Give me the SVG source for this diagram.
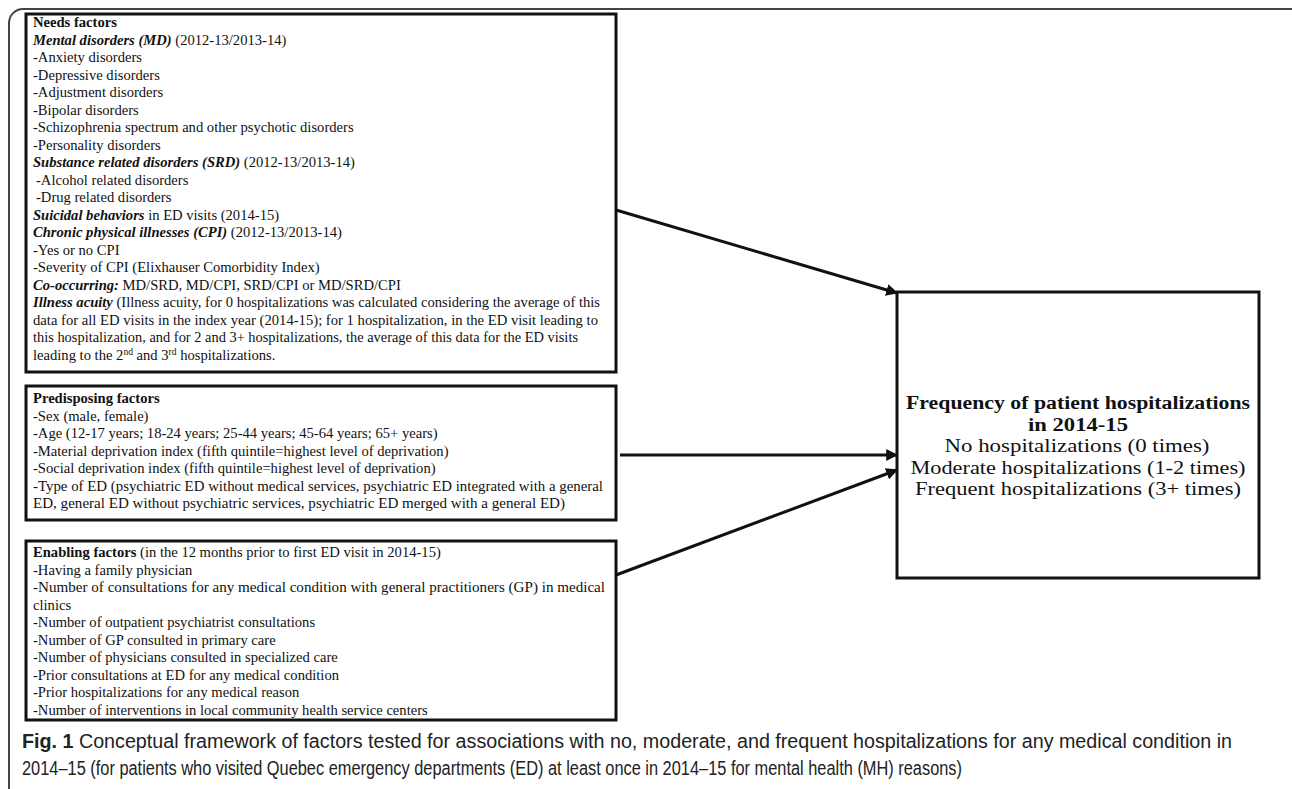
<svg xmlns="http://www.w3.org/2000/svg" width="1292" height="789" viewBox="0 0 1292 789">
<style>
.box{fill:#fff;stroke:#111;stroke-width:3}
.t{font-family:"Liberation Serif","Times New Roman",serif;font-size:14.6px;fill:#111}
.b{font-weight:bold}
.bi{font-weight:bold;font-style:italic}
.big{font-family:"Liberation Serif","Times New Roman",serif;font-size:18.5px;fill:#111;text-anchor:middle}
.cap{font-family:"Liberation Sans Narrow","Liberation Sans",Arial,sans-serif;font-size:20px;fill:#222}
.con{stroke:#111;stroke-width:3;fill:none;marker-end:url(#ah)}
</style>
<defs>
<marker id="ah" viewBox="0 0 10 10" refX="9" refY="5" markerWidth="4" markerHeight="4" orient="auto" markerUnits="strokeWidth">
<path d="M0,0 L10,5 L0,10 z" fill="#111"/>
</marker>
</defs>
<rect x="9" y="9" width="1300" height="800" rx="14" fill="#fff" stroke="#444" stroke-width="2"/>

<g id="needs">
<rect class="box" x="26" y="14" width="590" height="358"/>
<text class="t">
<tspan x="33" y="27" class="b">Needs factors</tspan>
<tspan x="33" y="44.5"><tspan class="bi">Mental disorders (MD)</tspan> (2012-13/2013-14)</tspan>
<tspan x="33" y="62">-Anxiety disorders</tspan>
<tspan x="33" y="79.5">-Depressive disorders</tspan>
<tspan x="33" y="97">-Adjustment disorders</tspan>
<tspan x="33" y="114.5">-Bipolar disorders</tspan>
<tspan x="33" y="132">-Schizophrenia spectrum and other psychotic disorders</tspan>
<tspan x="33" y="149.5">-Personality disorders</tspan>
<tspan x="33" y="167"><tspan class="bi">Substance related disorders (SRD)</tspan> (2012-13/2013-14)</tspan>
<tspan x="36" y="184.5">-Alcohol related disorders</tspan>
<tspan x="36" y="202">-Drug related disorders</tspan>
<tspan x="33" y="219.5"><tspan class="bi">Suicidal behaviors</tspan> in ED visits (2014-15)</tspan>
<tspan x="33" y="237"><tspan class="bi">Chronic physical illnesses (CPI)</tspan> (2012-13/2013-14)</tspan>
<tspan x="33" y="254.5">-Yes or no CPI</tspan>
<tspan x="33" y="272">-Severity of CPI (Elixhauser Comorbidity Index)</tspan>
<tspan x="33" y="289.5"><tspan class="bi">Co-occurring:</tspan> MD/SRD, MD/CPI, SRD/CPI or MD/SRD/CPI</tspan>
</text>
<text class="t" x="33" y="307" textLength="567" lengthAdjust="spacingAndGlyphs"><tspan class="bi">Illness acuity</tspan> (Illness acuity, for 0 hospitalizations was calculated considering the average of this</text>
<text class="t" x="33" y="324.5" textLength="565" lengthAdjust="spacingAndGlyphs">data for all ED visits in the index year (2014-15); for 1 hospitalization, in the ED visit leading to</text>
<text class="t" x="33" y="342" textLength="545" lengthAdjust="spacingAndGlyphs">this hospitalization, and for 2 and 3+ hospitalizations, the average of this data for the ED visits</text>
<text class="t" x="33" y="359.5">leading to the 2<tspan font-size="9.5" dy="-5">nd</tspan><tspan dy="5"> and 3</tspan><tspan font-size="9.5" dy="-5">rd</tspan><tspan dy="5"> hospitalizations.</tspan></text>
</g>

<g id="predisposing">
<rect class="box" x="26" y="386" width="590" height="134"/>
<text class="t">
<tspan x="33" y="403" class="b">Predisposing factors</tspan>
<tspan x="33" y="420.5">-Sex (male, female)</tspan>
<tspan x="33" y="438">-Age (12-17 years; 18-24 years; 25-44 years; 45-64 years; 65+ years)</tspan>
<tspan x="33" y="455.5">-Material deprivation index (fifth quintile=highest level of deprivation)</tspan>
<tspan x="33" y="473">-Social deprivation index (fifth quintile=highest level of deprivation)</tspan>
</text>
<text class="t" x="33" y="490.5" textLength="570" lengthAdjust="spacingAndGlyphs">-Type of ED (psychiatric ED without medical services, psychiatric ED integrated with a general</text>
<text class="t" x="33" y="508" textLength="532" lengthAdjust="spacingAndGlyphs">ED, general ED without psychiatric services, psychiatric ED merged with a general ED)</text>
</g>

<g id="enabling">
<rect class="box" x="26" y="541" width="590" height="179"/>
<text class="t">
<tspan x="33" y="557"><tspan class="b">Enabling factors</tspan> (in the 12 months prior to first ED visit in 2014-15)</tspan>
<tspan x="33" y="574.5">-Having a family physician</tspan>
</text>
<text class="t" x="33" y="592" textLength="572" lengthAdjust="spacingAndGlyphs">-Number of consultations for any medical condition with general practitioners (GP) in medical</text>
<text class="t">
<tspan x="33" y="609.5">clinics</tspan>
<tspan x="33" y="627">-Number of outpatient psychiatrist consultations</tspan>
<tspan x="33" y="644.5">-Number of GP consulted in primary care</tspan>
<tspan x="33" y="662">-Number of physicians consulted in specialized care</tspan>
<tspan x="33" y="679.5">-Prior consultations at ED for any medical condition</tspan>
<tspan x="33" y="697">-Prior hospitalizations for any medical reason</tspan>
<tspan x="33" y="714.5">-Number of interventions in local community health service centers</tspan>
</text>
</g>

<g id="outcome">
<rect class="box" x="897" y="292" width="362" height="286"/>
<text class="big" x="1078" y="409" font-weight="bold" textLength="344" lengthAdjust="spacingAndGlyphs">Frequency of patient hospitalizations</text>
<text class="big" x="1078" y="430.5" font-weight="bold" textLength="100" lengthAdjust="spacingAndGlyphs">in 2014-15</text>
<text class="big" x="1077" y="452" textLength="265" lengthAdjust="spacingAndGlyphs">No hospitalizations (0 times)</text>
<text class="big" x="1078" y="473.5" textLength="335" lengthAdjust="spacingAndGlyphs">Moderate hospitalizations (1-2 times)</text>
<text class="big" x="1078" y="495" textLength="326" lengthAdjust="spacingAndGlyphs">Frequent hospitalizations (3+ times)</text>
</g>

<g id="connectors">
<line class="con" x1="616" y1="210" x2="897" y2="293"/>
<line class="con" x1="620" y1="455" x2="897" y2="455"/>
<line class="con" x1="616" y1="575" x2="897" y2="470"/>
</g>

<g id="caption">
<text class="cap" x="22" y="748" textLength="1210" lengthAdjust="spacingAndGlyphs"><tspan font-weight="bold">Fig. 1</tspan> Conceptual framework of factors tested for associations with no, moderate, and frequent hospitalizations for any medical condition in</text>
<text class="cap" x="22" y="775" textLength="940" lengthAdjust="spacingAndGlyphs">2014–15 (for patients who visited Quebec emergency departments (ED) at least once in 2014–15 for mental health (MH) reasons)</text>
</g>
</svg>
